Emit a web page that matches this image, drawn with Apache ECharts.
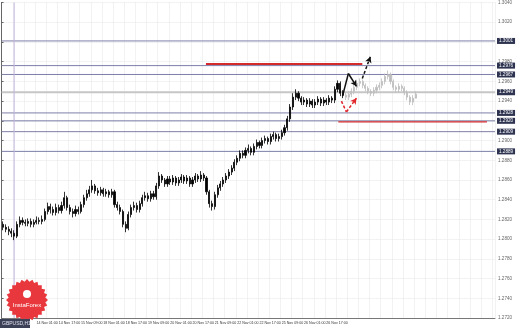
<!DOCTYPE html>
<html><head><meta charset="utf-8">
<script src="https://cdn.jsdelivr.net/npm/echarts@6/dist/echarts.min.js"></script>
<style>html,body{margin:0;padding:0;background:#fff}#c{width:518px;height:328px}</style>
</head><body><div id="c"></div>
<script>
// ---- data ----
const tickLabels = ["14 Nov 01:00","14 Nov 17:00","15 Nov 09:00","18 Nov 01:00","18 Nov 17:00","19 Nov 09:00","20 Nov 01:00","20 Nov 17:00","21 Nov 09:00","22 Nov 01:00","22 Nov 17:00","25 Nov 09:00","26 Nov 01:00","26 Nov 17:00"];
const opens = [1.2815,1.2812,1.2810,1.2808,1.2806,1.2803,1.2815,1.2819,1.2817,1.2816,1.2818,1.2815,1.2817,1.2819,1.2818,1.2820,1.2828,1.2833,1.2830,1.2827,1.2832,1.2829,1.2834,1.2842,1.2832,1.2828,1.2826,1.2830,1.2828,1.2835,1.2842,1.2846,1.2850,1.2854,1.2849,1.2847,1.2850,1.2846,1.2848,1.2845,1.2848,1.2835,1.2832,1.2828,1.2815,1.2811,1.2825,1.2832,1.2834,1.2830,1.2836,1.2842,1.2844,1.2841,1.2846,1.2843,1.2854,1.2864,1.2860,1.2856,1.2861,1.2858,1.2862,1.2857,1.2860,1.2863,1.2859,1.2862,1.2856,1.2860,1.2864,1.2861,1.2865,1.2862,1.2848,1.2836,1.2833,1.2845,1.2852,1.2856,1.2860,1.2864,1.2868,1.2872,1.2878,1.2882,1.2887,1.2885,1.2890,1.2892,1.2888,1.2894,1.2898,1.2895,1.2900,1.2902,1.2899,1.2904,1.2906,1.2902,1.2904,1.2908,1.2913,1.2922,1.2934,1.2944,1.2948,1.2943,1.2939,1.2941,1.2937,1.2940,1.2936,1.2939,1.2942,1.2938,1.2941,1.2939,1.2943,1.2941,1.2952,1.2958,1.2948];
const closes = [1.2812,1.2810,1.2808,1.2806,1.2803,1.2815,1.2819,1.2817,1.2816,1.2818,1.2815,1.2817,1.2819,1.2818,1.2820,1.2828,1.2833,1.2830,1.2827,1.2832,1.2829,1.2834,1.2842,1.2832,1.2828,1.2826,1.2830,1.2828,1.2835,1.2842,1.2846,1.2850,1.2854,1.2849,1.2847,1.2850,1.2846,1.2848,1.2845,1.2848,1.2835,1.2832,1.2828,1.2815,1.2811,1.2825,1.2832,1.2834,1.2830,1.2836,1.2842,1.2844,1.2841,1.2846,1.2843,1.2854,1.2864,1.2860,1.2856,1.2861,1.2858,1.2862,1.2857,1.2860,1.2863,1.2859,1.2862,1.2856,1.2860,1.2864,1.2861,1.2865,1.2862,1.2848,1.2836,1.2833,1.2845,1.2852,1.2856,1.2860,1.2864,1.2868,1.2872,1.2878,1.2882,1.2887,1.2885,1.2890,1.2892,1.2888,1.2894,1.2898,1.2895,1.2900,1.2902,1.2899,1.2904,1.2906,1.2902,1.2904,1.2908,1.2913,1.2922,1.2934,1.2944,1.2948,1.2943,1.2939,1.2941,1.2937,1.2940,1.2936,1.2939,1.2942,1.2938,1.2941,1.2939,1.2943,1.2941,1.2952,1.2958,1.2948,1.2946];
const highs = [1.2818,1.2815,1.2813,1.2811,1.2809,1.2818,1.2823,1.2822,1.2820,1.2821,1.2821,1.2820,1.2823,1.2822,1.2824,1.2831,1.2837,1.2836,1.2833,1.2836,1.2835,1.2838,1.2848,1.2844,1.2835,1.2831,1.2834,1.2833,1.2838,1.2845,1.2850,1.2854,1.2860,1.2856,1.2852,1.2853,1.2852,1.2851,1.2850,1.2851,1.2850,1.2838,1.2835,1.2830,1.2818,1.2828,1.2835,1.2838,1.2837,1.2839,1.2845,1.2848,1.2847,1.2849,1.2849,1.2857,1.2868,1.2866,1.2862,1.2864,1.2864,1.2865,1.2864,1.2863,1.2866,1.2865,1.2865,1.2864,1.2863,1.2867,1.2866,1.2869,1.2867,1.2864,1.2850,1.2839,1.2848,1.2855,1.2859,1.2863,1.2867,1.2871,1.2875,1.2881,1.2885,1.2890,1.2890,1.2893,1.2896,1.2894,1.2897,1.2901,1.2900,1.2903,1.2905,1.2904,1.2907,1.2909,1.2908,1.2907,1.2911,1.2916,1.2925,1.2937,1.2948,1.2952,1.2950,1.2945,1.2944,1.2943,1.2943,1.2942,1.2942,1.2945,1.2944,1.2944,1.2943,1.2946,1.2945,1.2955,1.2961,1.2960,1.2951];
const lows = [1.2809,1.2807,1.2804,1.2802,1.2799,1.2801,1.2812,1.2814,1.2813,1.2813,1.2812,1.2812,1.2815,1.2815,1.2815,1.2818,1.2825,1.2826,1.2824,1.2824,1.2826,1.2826,1.2831,1.2829,1.2825,1.2822,1.2823,1.2825,1.2826,1.2832,1.2839,1.2843,1.2847,1.2846,1.2844,1.2844,1.2843,1.2843,1.2842,1.2842,1.2832,1.2829,1.2825,1.2812,1.2807,1.2809,1.2822,1.2829,1.2827,1.2827,1.2833,1.2839,1.2838,1.2838,1.2840,1.2840,1.2851,1.2857,1.2853,1.2853,1.2855,1.2855,1.2854,1.2854,1.2857,1.2856,1.2856,1.2853,1.2853,1.2857,1.2858,1.2858,1.2859,1.2845,1.2832,1.2829,1.2830,1.2842,1.2849,1.2853,1.2857,1.2861,1.2865,1.2869,1.2875,1.2879,1.2882,1.2882,1.2887,1.2885,1.2885,1.2891,1.2892,1.2892,1.2897,1.2896,1.2896,1.2901,1.2899,1.2899,1.2901,1.2905,1.2910,1.2919,1.2931,1.2941,1.2940,1.2936,1.2936,1.2934,1.2934,1.2933,1.2933,1.2936,1.2935,1.2935,1.2936,1.2936,1.2938,1.2938,1.2949,1.2945,1.2943];
// projected (grey) candles
const projOpens  = [1.2946,1.2944,1.2947,1.2950,1.2954,1.2958,1.2960,1.2956,1.2953,1.2950,1.2948,1.2951,1.2954,1.2956,1.2960,1.2965,1.2967,1.2960,1.2954,1.2952,1.2955,1.2953,1.2949,1.2944,1.2939,1.2943];
const projCloses = [1.2944,1.2947,1.2950,1.2954,1.2958,1.2960,1.2956,1.2953,1.2950,1.2948,1.2951,1.2954,1.2956,1.2960,1.2965,1.2967,1.2960,1.2954,1.2952,1.2955,1.2953,1.2949,1.2944,1.2939,1.2943,1.2947];
const projHighs  = [1.2949,1.2950,1.2953,1.2957,1.2961,1.2963,1.2962,1.2958,1.2955,1.2952,1.2954,1.2957,1.2959,1.2963,1.2968,1.2971,1.2969,1.2962,1.2956,1.2958,1.2957,1.2955,1.2951,1.2946,1.2946,1.2950];
const projLows   = [1.2941,1.2941,1.2944,1.2947,1.2951,1.2955,1.2953,1.2950,1.2947,1.2945,1.2945,1.2948,1.2951,1.2953,1.2957,1.2962,1.2957,1.2951,1.2949,1.2949,1.2950,1.2946,1.2941,1.2936,1.2936,1.2944];
// horizontal levels
const blueLevels = [1.3001, 1.2976, 1.2967, 1.2928, 1.2920, 1.2909, 1.2889];
const currentPrice = 1.2949;
const redLevel1 = {from: 73.3, to: 129.4, price: 1.29775};
const redLevel2 = {from: 120.8, to: 174.1, price: 1.2919};
const vLineAt = 4.5;
// annotations [bar position, price]
const blackArrow = [[122.3, 1.2945], [124.4, 1.2968], [127.3, 1.2955]];
const blackDashArrow = [[129.4, 1.2963], [132.3, 1.2985]];
const redDashArrow = [[121.9, 1.2940], [123.7, 1.2929], [127.3, 1.2943]];

// ---- build ----
const N = 177, FIRST_LABEL = 12, LABEL_STEP = 8;
const Y_MIN = 1.2720, Y_MAX = 1.3040;
const labelMap = {};
tickLabels.forEach((t, k) => { labelMap[FIRST_LABEL + LABEL_STEP * k] = t; });
const cats = [];
for (let i = 0; i < N; i++) cats.push(labelMap[i] || ('b' + i));
const hist = opens.map((o, i) => [o, closes[i], lows[i], highs[i]]);
const proj = [];
for (let i = 0; i < opens.length; i++) proj.push(['-', '-', '-', '-']);
projOpens.forEach((o, i) => proj.push([o, projCloses[i], projLows[i], projHighs[i]]));

const FONT = 'Liberation Sans';
function arrowSeries(pts, color, dashed) {
  const last = pts.length - 1;
  return {
    type: 'line', xAxisIndex: 1, yAxisIndex: 0, data: pts.slice(0, last),
    symbol: 'none', silent: true, z: 10, animation: false,
    lineStyle: {color: color, width: 1.5, type: dashed ? [3, 2] : 'solid'},
    markLine: {
      silent: true, symbol: ['none', 'arrow'], symbolSize: [5, 6], animation: false,
      lineStyle: {color: color, width: 1.5, type: dashed ? [3, 2] : 'solid'},
      label: {show: false},
      data: [[{coord: pts[last - 1]}, {coord: pts[last]}]]
    }
  };
}
function levelSeries(v, color, width, z) {
  return {
    type: 'line', xAxisIndex: 1, yAxisIndex: 0, symbol: 'none', silent: true, z: z,
    data: [[0, v], [N, v]],
    lineStyle: {color: color, width: width},
    endLabel: {
      show: true, formatter: () => v.toFixed(4), distance: 2,
      color: '#fff', backgroundColor: '#2e3350', fontSize: 4.6, padding: [1, 2, 0, 2], fontFamily: FONT
    }
  };
}

const series = [
  {
    type: 'candlestick', data: hist, barWidth: 1.6, z: 5,
    itemStyle: {color: '#000', color0: '#000', borderColor: '#000', borderColor0: '#000', borderWidth: 0.8}
  },
  {
    type: 'candlestick', data: proj, barWidth: 1.6, z: 4,
    itemStyle: {color: '#bdbdbd', color0: '#bdbdbd', borderColor: '#bdbdbd', borderColor0: '#bdbdbd', borderWidth: 0.8}
  }
];
blueLevels.forEach(v => series.push(levelSeries(v, '#7d7fa8', 1, 2)));
series.push(levelSeries(currentPrice, '#c6c6c6', 2, 2));
series.push({
  type: 'line', xAxisIndex: 1, yAxisIndex: 0, symbol: 'none', silent: true, z: 2,
  data: [[vLineAt, Y_MIN], [vLineAt, Y_MAX]], lineStyle: {color: '#c3b4dc', width: 1}
});
series.push({
  type: 'line', xAxisIndex: 1, yAxisIndex: 0, symbol: 'none', silent: true, z: 3,
  data: [[redLevel1.from, redLevel1.price], [redLevel1.to, redLevel1.price]],
  lineStyle: {color: '#d42a2a', width: 2}
});
series.push({
  type: 'line', xAxisIndex: 1, yAxisIndex: 0, symbol: 'none', silent: true, z: 3,
  data: [[redLevel2.from, redLevel2.price], [redLevel2.to, redLevel2.price]],
  lineStyle: {color: '#d42a2a', width: 1.2}
});
series.push(arrowSeries(blackArrow, '#111', false));
series.push(arrowSeries(blackDashArrow, '#111', true));
series.push(arrowSeries(redDashArrow, '#e0262b', true));

const chart = echarts.init(document.getElementById('c'));
chart.setOption({
  animation: false,
  backgroundColor: '#ffffff',
  grid: {left: 0, right: 23, top: 0, bottom: 10},
  xAxis: [{
    type: 'category', data: cats, boundaryGap: true,
    axisLine: {show: true, lineStyle: {color: '#777'}},
    axisTick: {show: false},
    axisLabel: {
      interval: 0,
      formatter: (v, i) => labelMap[i] || '',
      fontSize: 3.6, color: '#333', align: 'left', margin: 3, fontFamily: FONT
    },
    splitLine: {show: true, interval: (i) => (i - FIRST_LABEL) % 4 === 0, lineStyle: {color: '#e6e6e6', type: [1, 1]}}
  }, {
    type: 'value', min: 0, max: N, show: false
  }],
  yAxis: [{
    type: 'value', position: 'right', min: Y_MIN, max: Y_MAX, interval: 0.002,
    axisLine: {show: true, lineStyle: {color: '#666'}},
    axisTick: {show: true, length: 2, lineStyle: {color: '#666'}},
    axisLabel: {formatter: v => v.toFixed(4), fontSize: 4.6, color: '#666', margin: 3, fontFamily: FONT},
    splitLine: {show: true, lineStyle: {color: '#e6e6e6', type: [1, 1]}}
  }],
  series: series,
  graphic: (function () {
    const pts = [], cx = 27, cy = 300, n = 24;
    for (let k = 0; k < n * 2; k++) {
      const r = k % 2 === 0 ? 21 : 18.5, a = Math.PI * k / n;
      pts.push([cx + r * Math.cos(a), cy + r * Math.sin(a)]);
    }
    return [
      {type: 'polygon', shape: {points: pts}, style: {fill: '#e8383d'}, z: 100},
      {type: 'circle', shape: {cx: 27, cy: 294, r: 4}, style: {fill: '#fff'}, z: 101},
      {type: 'text', x: 27, y: 305, style: {text: 'InstaForex', fill: '#fff', fontSize: 6, align: 'center', verticalAlign: 'middle', fontFamily: FONT}, z: 101},
      {type: 'rect', shape: {x: 0, y: 319, width: 30, height: 9}, style: {fill: '#3d4157'}, z: 102},
      {type: 'text', x: 2, y: 323.5, style: {text: 'GBPUSD,H1', fill: '#dfe2ee', fontSize: 5, verticalAlign: 'middle', fontFamily: FONT}, z: 103}
    ];
  })()
});
</script></body></html>
